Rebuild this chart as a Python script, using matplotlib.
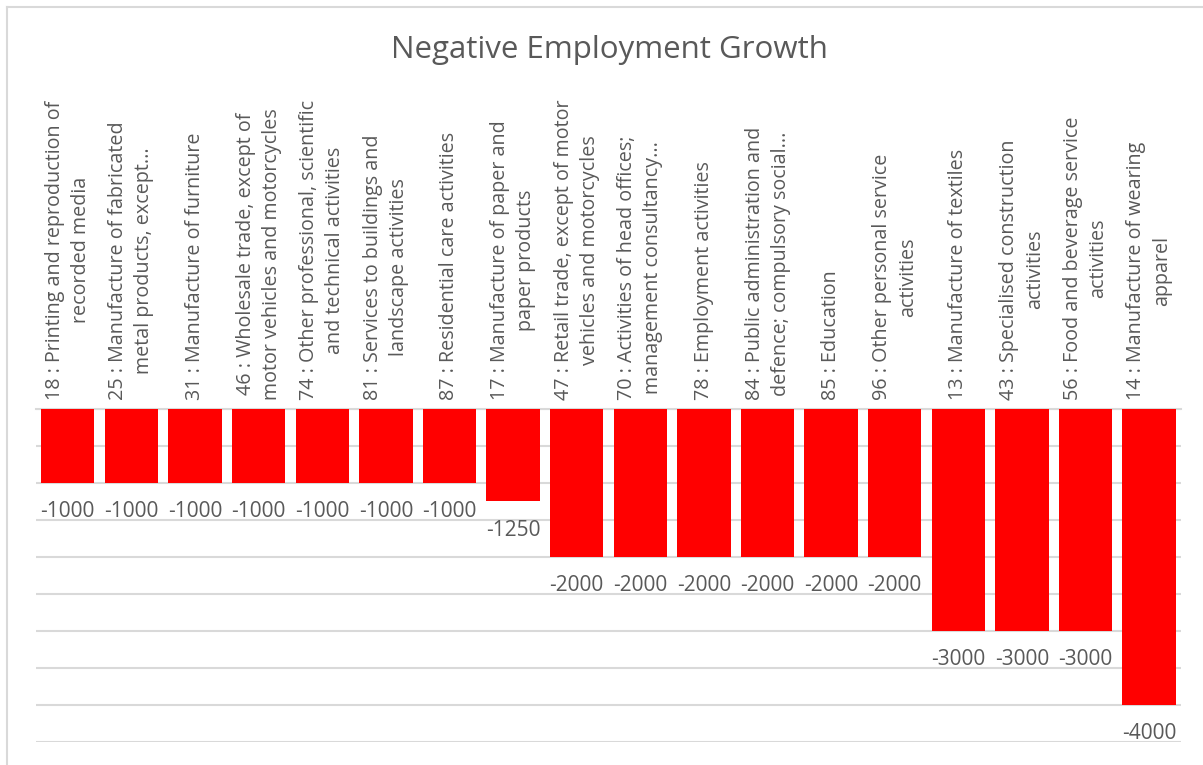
import matplotlib.pyplot as plt
from matplotlib.lines import Line2D

#----------------------------------------------------------------------------------------------------------------------#
# Data
#----------------------------------------------------------------------------------------------------------------------#
sectors = [
    "18 : Printing and reproduction of\nrecorded media",
    "25 : Manufacture of fabricated\nmetal products, except...",
    "31 : Manufacture of furniture",
    "46 : Wholesale trade, except of\nmotor vehicles and motorcycles",
    "74 : Other professional, scientific\nand technical activities",
    "81 : Services to buildings and\nlandscape activities",
    "87 : Residential care activities",
    "17 : Manufacture of paper and\npaper products",
    "47 : Retail trade, except of motor\nvehicles and motorcycles",
    "70 : Activities of head offices;\nmanagement consultancy...",
    "78 : Employment activities",
    "84 : Public administration and\ndefence; compulsory social...",
    "85 : Education",
    "96 : Other personal service\nactivities",
    "13 : Manufacture of textiles",
    "43 : Specialised construction\nactivities",
    "56 : Food and beverage service\nactivities",
    "14 : Manufacture of wearing\napparel",
]
growth = [-1000, -1000, -1000, -1000, -1000, -1000, -1000, -1250,
          -2000, -2000, -2000, -2000, -2000, -2000,
          -3000, -3000, -3000, -4000]
grid_ticks = [0, -500, -1000, -1500, -2000, -2500, -3000, -3500, -4000, -4500]

#----------------------------------------------------------------------------------------------------------------------#
# Figure
#----------------------------------------------------------------------------------------------------------------------#
text_grey = '#595959'
grid_grey = '#d9d9d9'

fig = plt.figure(figsize=(12.03, 7.65), dpi=100)
ax = fig.add_axes([0.0299, 0.0301, 0.9518, 0.4353])

x = range(len(growth))
ax.bar(x, growth, width=0.84, color='#ff0000', zorder=3)

ax.set_xlim(-0.5, len(growth) - 0.5)
ax.set_ylim(-4500, 0)

# horizontal gridlines only, no y tick labels
ax.set_yticks(grid_ticks)
ax.yaxis.grid(True, color=grid_grey, linewidth=1.5)
ax.tick_params(axis='y', left=False, labelleft=False)

# category labels sit on the zero line, reading upwards
ax.xaxis.tick_top()
ax.set_xticks(list(x))
ax.set_xticklabels(sectors, rotation=90, ha='center', va='bottom', multialignment='center',
                   fontsize=14.2, family='Open Sans', color=text_grey, linespacing=1.4)
ax.tick_params(axis='x', top=False, pad=3)

for s in ['left', 'right', 'bottom']:
    ax.spines[s].set_visible(False)
ax.spines['top'].set_color(grid_grey)
ax.spines['top'].set_linewidth(1.5)

# value labels under each bar
for i, v in enumerate(growth):
    ax.annotate(str(v), (i, v), xytext=(0, -13), textcoords='offset points',
                ha='center', va='top', fontsize=15, family='Open Sans', color=text_grey)

fig.text(0.507, 0.934, 'Negative Employment Growth', ha='center', va='center',
         fontsize=22.5, family='Open Sans', color=text_grey)

# chart area border
fig.add_artist(Line2D([7 / 1203, 7 / 1203], [0, 1 - 7 / 765], color=grid_grey, linewidth=1.5,
                      transform=fig.transFigure))
fig.add_artist(Line2D([7 / 1203, 1], [1 - 7 / 765, 1 - 7 / 765], color=grid_grey, linewidth=1.5,
                      transform=fig.transFigure))

fig.savefig('out.png', dpi=100)
